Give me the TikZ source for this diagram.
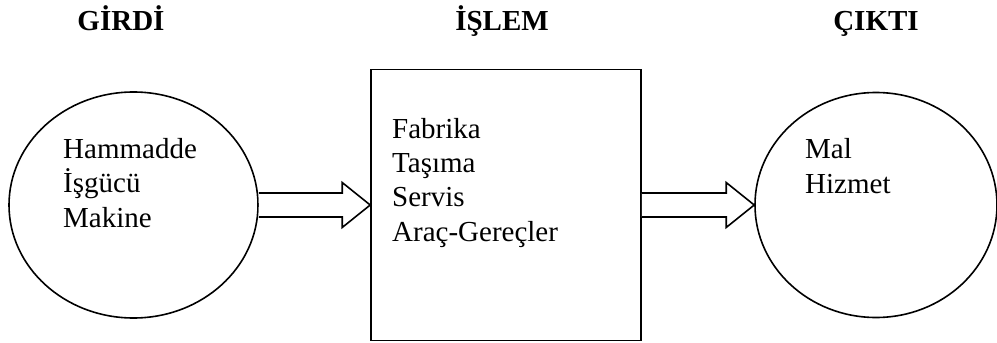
\documentclass[tikz,border=0pt]{standalone}
\usepackage{fontspec}
\setmainfont{Liberation Serif}
\usetikzlibrary{shapes.geometric,calc}

\tikzset{
  outline/.style={draw=black, line width=1.6pt},
  oval/.style={outline, ellipse, inner sep=0pt},
  stagebox/.style={outline, rectangle, inner sep=0pt},
  % multi-line text: the base anchor sits on the last line
  body/.style={font=\fontsize{29}{34.3}\selectfont, align=left, anchor=base west, inner sep=0pt},
  heading/.style={font=\fontsize{29}{34}\selectfont\bfseries, anchor=base, inner sep=0pt},
  blockarrow/.style={outline, line join=miter, fill=white},
}

% shaft half-height, head half-height, head length
\def\shafthalf{12}
\def\headhalf{22.5}
\def\headlen{28}

\begin{document}
\begin{tikzpicture}[x=1pt, y=-1pt]
  \useasboundingbox (0,0) rectangle (997,343);

  % column headings
  \node[heading] (hin)   at (121,30) {GİRDİ};
  \node[heading] (hproc) at (502,30) {İŞLEM};
  \node[heading] (hout)  at (876,30) {ÇIKTI};

  % the three stages
  \node[oval, minimum width=249pt, minimum height=226pt] (in) at (133.5,205) {};
  \node[stagebox, minimum width=270pt, minimum height=271pt] (proc) at (506,205) {};
  \node[oval, minimum width=242pt, minimum height=225pt] (out) at (876,205) {};

  % stage contents
  \node[body] (intext)   at (63,227)  {Hammadde\\İşgücü\\Makine};
  \node[body] (proctext) at (392,241) {Fabrika\\Taşıma\\Servis\\Araç-Gereçler};
  \node[body] (outtext)  at (805,193) {Mal\\Hizmet};

  % hollow block arrows between the stages
  \draw[blockarrow]
    ($(in.east)+(0,-\shafthalf)$)
    -- ($(proc.west)+(-\headlen,-\shafthalf)$)
    -- ($(proc.west)+(-\headlen,-\headhalf)$)
    -- (proc.west)
    -- ($(proc.west)+(-\headlen,\headhalf)$)
    -- ($(proc.west)+(-\headlen,\shafthalf)$)
    -- ($(in.east)+(0,\shafthalf)$);
  \draw[blockarrow]
    ($(proc.east)+(0,-\shafthalf)$)
    -- ($(out.west)+(-\headlen,-\shafthalf)$)
    -- ($(out.west)+(-\headlen,-\headhalf)$)
    -- (out.west)
    -- ($(out.west)+(-\headlen,\headhalf)$)
    -- ($(out.west)+(-\headlen,\shafthalf)$)
    -- ($(proc.east)+(0,\shafthalf)$);
\end{tikzpicture}
\end{document}
